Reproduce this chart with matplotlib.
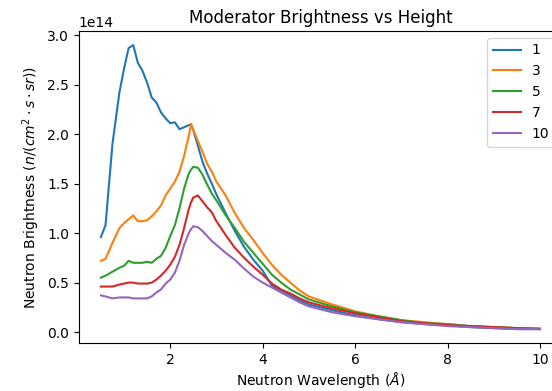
import numpy as np
import matplotlib
matplotlib.use('Agg')
import matplotlib.pyplot as plt

# wavelength grid (Angstrom)
wl = [0.5, 0.6, 0.75, 0.9, 1.0, 1.1, 1.2, 1.3, 1.4, 1.5, 1.6, 1.7, 1.8, 1.9,
      2.0, 2.1, 2.2, 2.3, 2.4, 2.45, 2.5, 2.6, 2.7, 2.8, 2.9, 3.0,
      3.2, 3.4, 3.6, 3.8, 4.0, 4.2, 4.4, 4.6, 4.8, 5.0,
      5.5, 6.0, 6.5, 7.0, 7.5, 8.0, 8.5, 9.0, 9.5, 10.0]

# brightness in units of 1e14 n/(cm^2 s sr), one list per height
h1 = [0.96, 1.08, 1.90, 2.42, 2.66, 2.87, 2.90, 2.72, 2.64, 2.52, 2.37, 2.32, 2.22, 2.16,
      2.11, 2.12, 2.05, 2.07, 2.09, 2.10, 2.04, 1.88, 1.72, 1.60, 1.50, 1.39,
      1.20, 1.02, 0.86, 0.73, 0.62, 0.47, 0.42, 0.37, 0.32, 0.28,
      0.22, 0.17, 0.13, 0.10, 0.08, 0.07, 0.05, 0.04, 0.03, 0.03]
h3 = [0.72, 0.74, 0.90, 1.05, 1.10, 1.14, 1.18, 1.12, 1.12, 1.13, 1.17, 1.22, 1.28, 1.38,
      1.45, 1.52, 1.62, 1.78, 1.98, 2.10, 2.04, 1.93, 1.82, 1.70, 1.62, 1.52,
      1.38, 1.20, 1.05, 0.93, 0.80, 0.68, 0.58, 0.50, 0.42, 0.36,
      0.28, 0.21, 0.16, 0.12, 0.10, 0.08, 0.06, 0.05, 0.04, 0.035]
h5 = [0.55, 0.57, 0.61, 0.65, 0.67, 0.72, 0.70, 0.70, 0.70, 0.71, 0.70, 0.74, 0.77, 0.85,
      0.97, 1.08, 1.25, 1.45, 1.60, 1.64, 1.67, 1.66, 1.59, 1.49, 1.40, 1.33,
      1.18, 1.05, 0.91, 0.80, 0.69, 0.58, 0.50, 0.43, 0.38, 0.33,
      0.26, 0.20, 0.16, 0.12, 0.09, 0.08, 0.06, 0.05, 0.04, 0.035]
h7 = [0.46, 0.46, 0.46, 0.48, 0.49, 0.50, 0.50, 0.49, 0.49, 0.49, 0.50, 0.53, 0.57, 0.62,
      0.68, 0.76, 0.88, 1.05, 1.24, 1.31, 1.36, 1.38, 1.32, 1.26, 1.21, 1.12,
      0.98, 0.85, 0.75, 0.66, 0.58, 0.49, 0.43, 0.39, 0.34, 0.30,
      0.24, 0.19, 0.15, 0.11, 0.09, 0.07, 0.06, 0.05, 0.04, 0.03]
h10 = [0.37, 0.36, 0.34, 0.35, 0.35, 0.35, 0.34, 0.34, 0.34, 0.34, 0.36, 0.40, 0.43, 0.49,
       0.53, 0.60, 0.72, 0.88, 1.00, 1.04, 1.07, 1.06, 1.02, 0.97, 0.92, 0.88,
       0.80, 0.73, 0.64, 0.56, 0.50, 0.45, 0.40, 0.35, 0.30, 0.26,
       0.20, 0.16, 0.13, 0.10, 0.08, 0.06, 0.05, 0.04, 0.03, 0.03]

heights = ['1', '3', '5', '7', '10']
series = [h1, h3, h5, h7, h10]

fig = plt.figure(figsize=(5.52, 3.91), dpi=100)
ax = fig.add_axes([0.143, 0.122, 0.875, 0.799])

for lab, s in zip(heights, series):
    ax.plot(wl, np.array(s) * 1e14, label=lab)

ax.set_title('Moderator Brightness vs Height')
ax.set_xlabel(r'Neutron Wavelength ($\AA$)', labelpad=2.5)
ax.set_ylabel(r'Neutron Brightness ($n/(cm^2 \cdot s \cdot sr)$)')
ax.legend(loc='upper right')

fig.savefig('out.png', dpi=100)
